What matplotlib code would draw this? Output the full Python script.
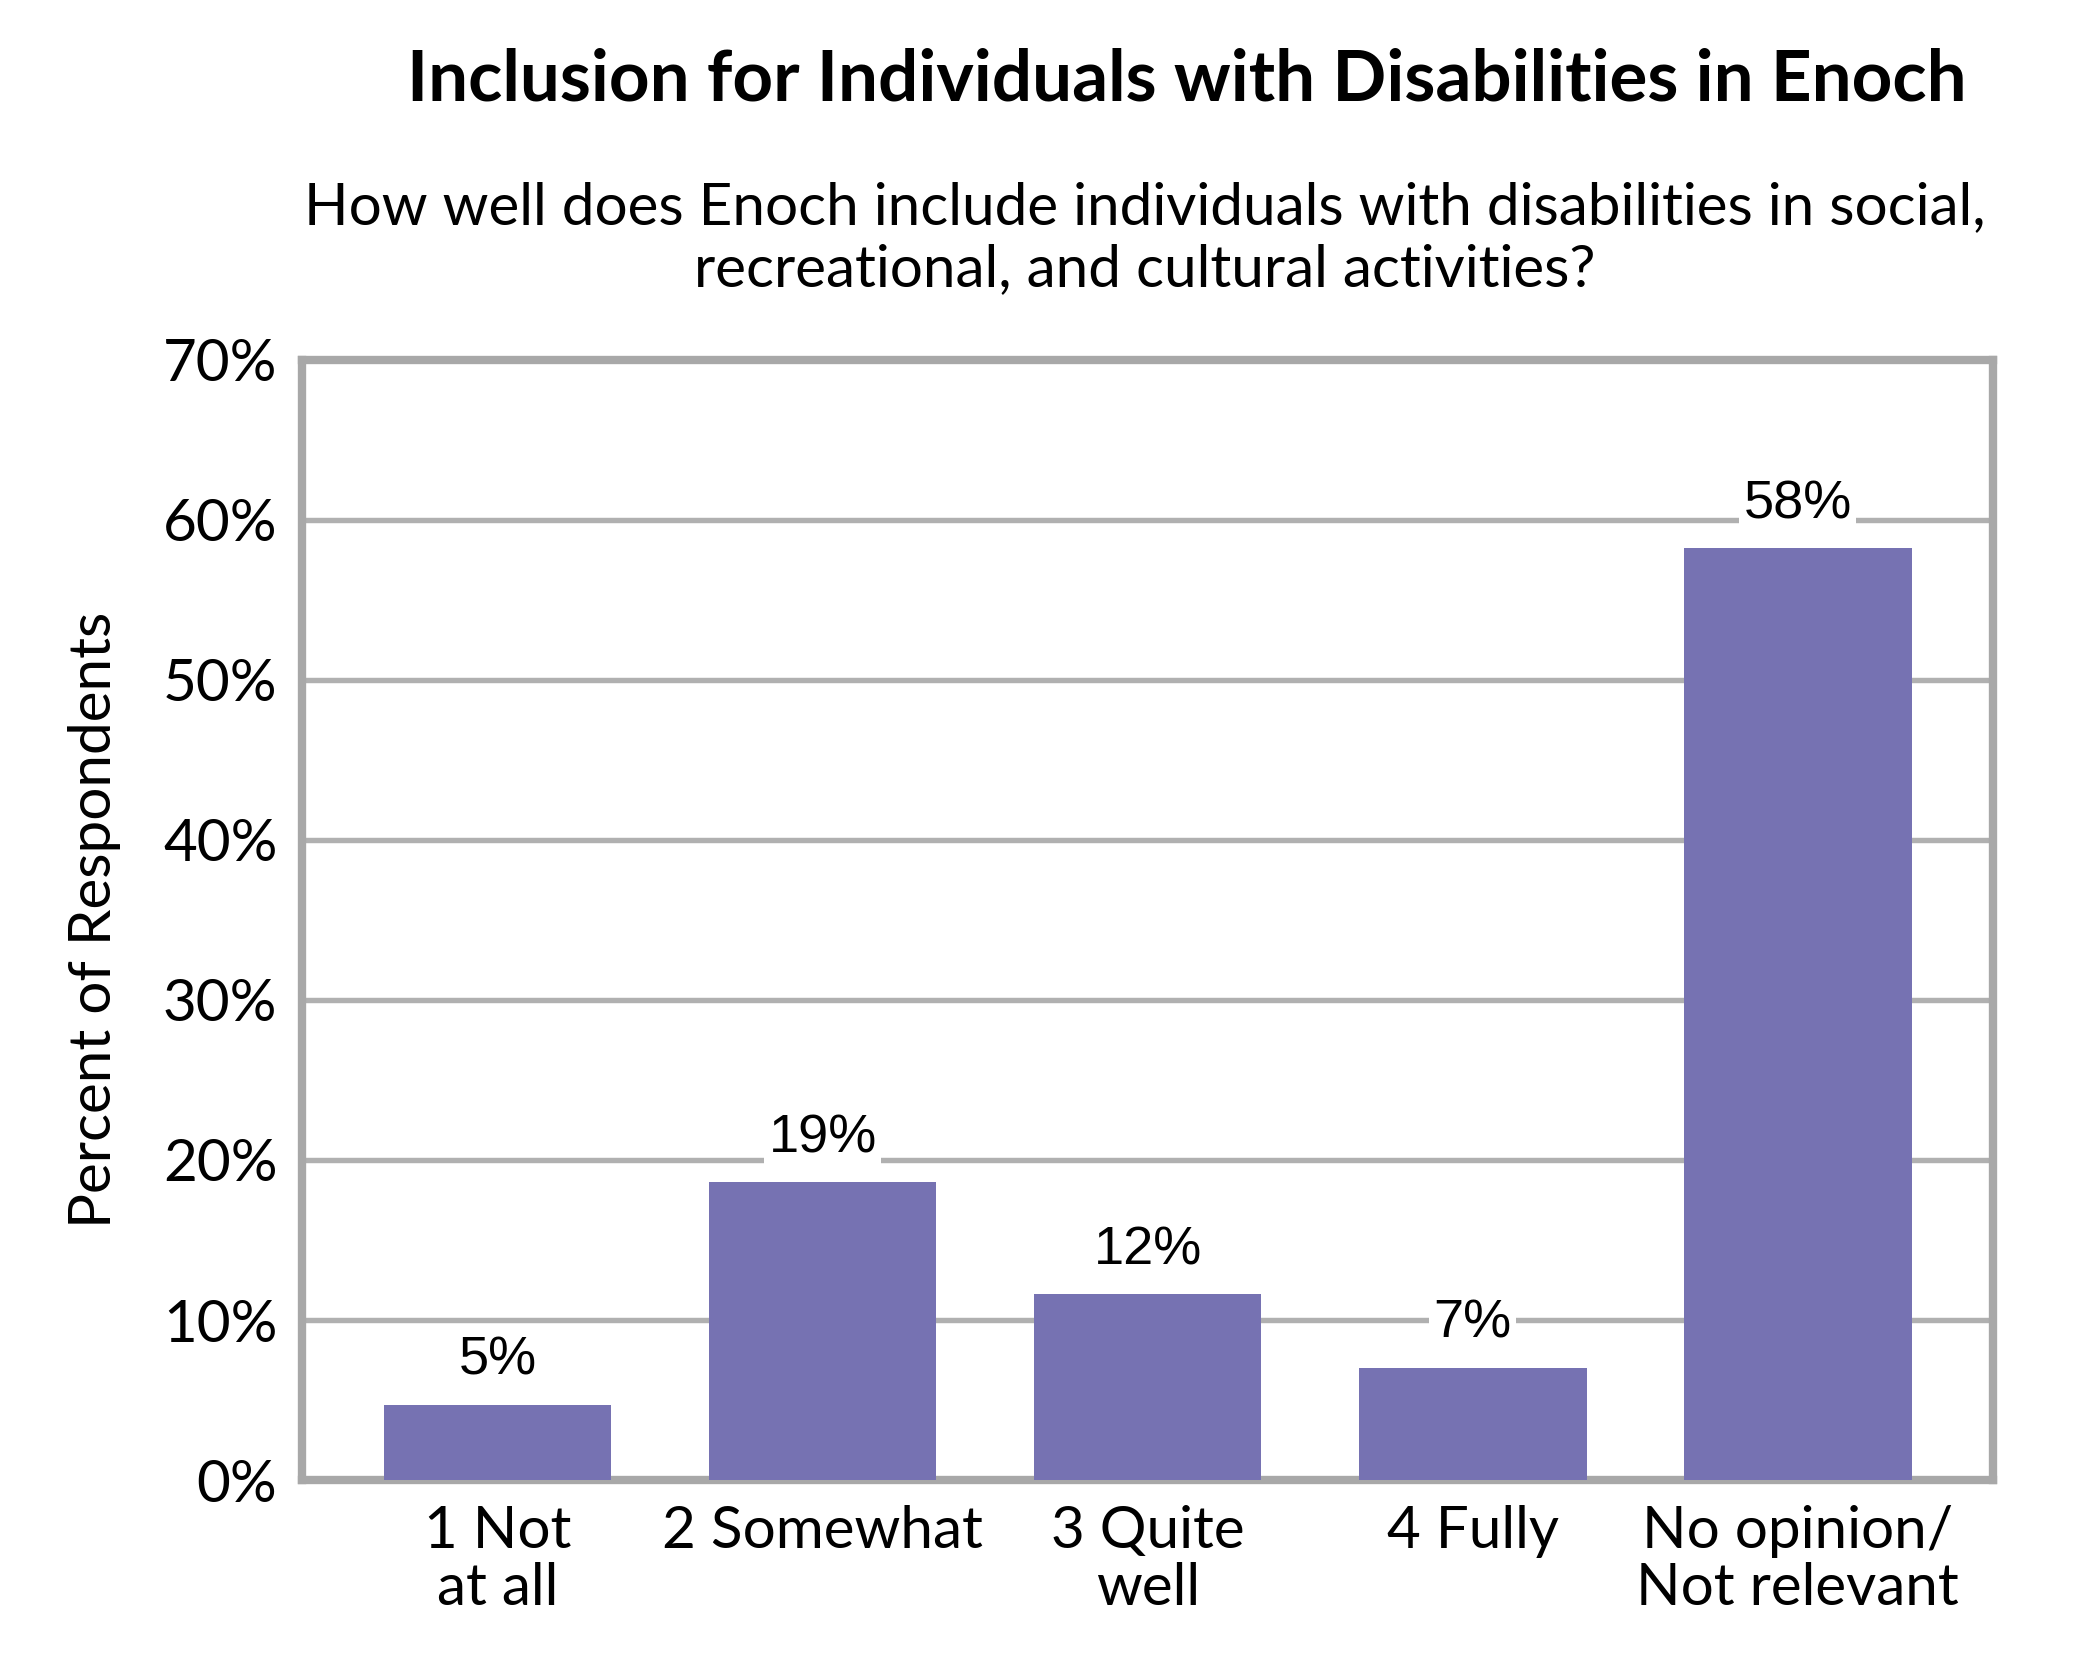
import matplotlib
matplotlib.use("Agg")
import matplotlib.pyplot as plt

categories = ["1 Not\nat all", "2 Somewhat", "3 Quite\nwell", "4 Fully", "No opinion/\nNot relevant"]
values = [4.7, 18.6, 11.6, 7.0, 58.2]
labels = ["5%", "19%", "12%", "7%", "58%"]
yticks = [0, 10, 20, 30, 40, 50, 60, 70]

fig = plt.figure(figsize=(7, 5.6), dpi=300)
ax = fig.add_axes([0.144, 0.119, 0.805, 0.667])
x = range(len(categories))
ax.bar(x, values, width=0.7, color="#7672b2", zorder=3)
ax.set_ylim(0, 70)
ax.set_xlim(-0.6, 4.6)
ax.set_yticks(yticks)
ax.set_yticklabels([f"{v}%" for v in yticks], family="Lato", fontsize=14)
ax.set_xticks(list(x))
ax.set_xticklabels(categories, family="Lato", fontsize=14, linespacing=1.1)
ax.tick_params(length=0, pad=6)
ax.yaxis.grid(True, color="#b0b0b0", linewidth=1.3, zorder=0)
for s in ax.spines.values():
    s.set_color("#a8a8a8")
    s.set_linewidth(2)
for i, (v, l) in enumerate(zip(values, labels)):
    ax.text(i, v + 1.2, l, ha="center", va="bottom", family="Liberation Sans", fontsize=13,
            bbox=dict(facecolor="white", edgecolor="none", pad=1), zorder=4)
ax.set_ylabel("Percent of Respondents", family="Lato", fontsize=14, labelpad=10)
fig.text(0.565, 0.94, "Inclusion for Individuals with Disabilities in Enoch", ha="center",
         family="Lato", fontweight="bold", fontsize=17)
fig.text(0.545, 0.83, "How well does Enoch include individuals with disabilities in social,\nrecreational, and cultural activities?",
         ha="center", family="Lato", fontsize=14, linespacing=1.2)
fig.savefig("out.png")
